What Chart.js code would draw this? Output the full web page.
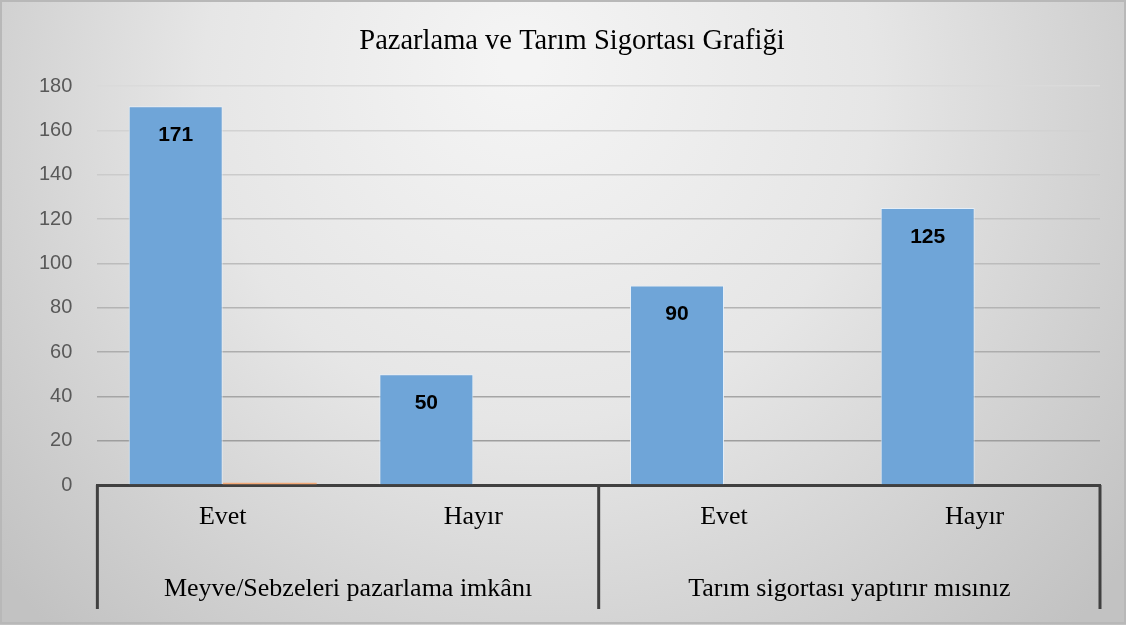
<!DOCTYPE html>
<html>
<head>
<meta charset="utf-8">
<script src="https://cdn.jsdelivr.net/npm/chart.js@4.4.1/dist/chart.umd.min.js"></script>
<style>
  html, body { margin: 0; padding: 0; background: #fff; }
  #wrap { width: 1126px; height: 625px; }
</style>
</head>
<body>
<div id="wrap"><canvas id="myChart"></canvas></div>
<script>
const titleText = "Pazarlama ve Tarım Sigortası Grafiği";
const answers = ["Evet", "Hayır", "Evet", "Hayır"];
const groups = ["Meyve/Sebzeleri pazarlama imkânı", "Tarım sigortası yaptırır mısınız"];
const countValues = [171, 50, 90, 125];
const otherValues = [1, 0, 0, 0]; // thin orange bar next to first column
const yTicks = [0, 20, 40, 60, 80, 100, 120, 140, 160, 180];

const ctx = document.getElementById("myChart");
const serif = "'Liberation Serif', 'Times New Roman', serif";

// grey gradient background + frame + title (title is centred on the whole frame)
const bgPlugin = {
  id: "bg",
  beforeDraw(chart) {
    const c = chart.ctx;
    const w = chart.width, h = chart.height;
    c.save();
    const g = c.createRadialGradient(520, 60, 20, 560, 120, 720);
    g.addColorStop(0, "#f4f4f4");
    g.addColorStop(0.45, "#e6e6e6");
    g.addColorStop(1, "#c2c2c2");
    c.fillStyle = g;
    c.fillRect(0, 0, w, h);
    c.strokeStyle = "#b8b8b8";
    c.lineWidth = 2;
    c.strokeRect(1, 1, w - 2, h - 3);
    c.font = "28.5px " + serif;
    c.fillStyle = "#000";
    c.textAlign = "center";
    c.textBaseline = "middle";
    c.fillText(titleText, 572, 42);
    c.restore();
  },
};

// numbers inside the blue bars
const valueLabels = {
  id: "valueLabels",
  afterDatasetsDraw(chart) {
    const c = chart.ctx;
    const meta = chart.getDatasetMeta(0);
    c.save();
    c.font = "bold 21px 'Liberation Sans', Arial, sans-serif";
    c.fillStyle = "#000";
    c.textAlign = "center";
    c.textBaseline = "middle";
    meta.data.forEach((bar, i) => {
      c.fillText(String(countValues[i]), bar.x, bar.y + 29);
    });
    c.restore();
  },
};

// second row of the category axis (groups) + dividers
const groupAxis = {
  id: "groupAxis",
  afterDraw(chart) {
    const c = chart.ctx;
    const x = chart.scales.x;
    const top = chart.chartArea.bottom;
    const bottom = top + 124;
    const per = answers.length / groups.length;
    c.save();
    c.strokeStyle = "#404040";
    c.lineWidth = 3;
    const edges = [x.left];
    for (let gi = 1; gi < groups.length; gi++) {
      const a = x.getPixelForValue(gi * per - 1);
      const b = x.getPixelForValue(gi * per);
      edges.push((a + b) / 2);
    }
    edges.push(x.right);
    edges.forEach((ex) => {
      c.beginPath();
      c.moveTo(ex, top);
      c.lineTo(ex, bottom);
      c.stroke();
    });
    c.font = "26px " + serif;
    c.fillStyle = "#000";
    c.textAlign = "center";
    c.textBaseline = "middle";
    groups.forEach((gname, gi) => {
      const cx = (edges[gi] + edges[gi + 1]) / 2;
      c.fillText(gname, cx, top + 104);
    });
    c.restore();
  },
};

new Chart(ctx, {
  type: "bar",
  data: {
    labels: answers,
    datasets: [
      {
        label: "Sayı",
        data: countValues,
        backgroundColor: "rgb(111, 165, 216)",
        borderColor: "rgba(230, 240, 250, 0.9)",
        borderWidth: 1,
      },
      {
        label: "Diğer",
        data: otherValues,
        backgroundColor: "rgb(244, 170, 120)",
        borderWidth: 0,
      },
    ],
  },
  options: {
    responsive: true,
    maintainAspectRatio: false,
    animation: false,
    categoryPercentage: 0.75,
    barPercentage: 1,
    layout: { padding: { left: 14, right: 26, top: 12, bottom: 0 } },
    plugins: {
      legend: { display: false },
      tooltip: { enabled: false },
      // keeps the space; the visible title is painted by bgPlugin
      title: {
        display: true,
        text: titleText,
        color: "rgba(0,0,0,0)",
        font: { family: serif, size: 28.5, weight: "normal" },
        padding: { top: 15, bottom: 25 },
      },
    },
    scales: {
      x: {
        grid: { display: false, drawTicks: false },
        border: { color: "#404040", width: 3 },
        ticks: {
          color: "#000",
          padding: 17,
          font: { family: serif, size: 26 },
        },
        afterFit(scale) {
          scale.height = 140;
        },
      },
      y: {
        min: 0,
        max: 180,
        afterBuildTicks(scale) {
          scale.ticks = yTicks.map((v) => ({ value: v }));
        },
        grid: {
          drawTicks: false,
          lineWidth: 1.5,
          color(c) {
            const v = c.tick ? c.tick.value : 0;
            const t = v / 180;
            const k = Math.round(150 + t * 68);
            return "rgb(" + k + "," + k + "," + k + ")";
          },
        },
        border: { display: false },
        ticks: {
          color: "#595959",
          padding: 25,
          font: { family: "'Liberation Sans', Arial, sans-serif", size: 20 },
        },
      },
    },
  },
  plugins: [bgPlugin, valueLabels, groupAxis],
});
</script>
</body>
</html>
